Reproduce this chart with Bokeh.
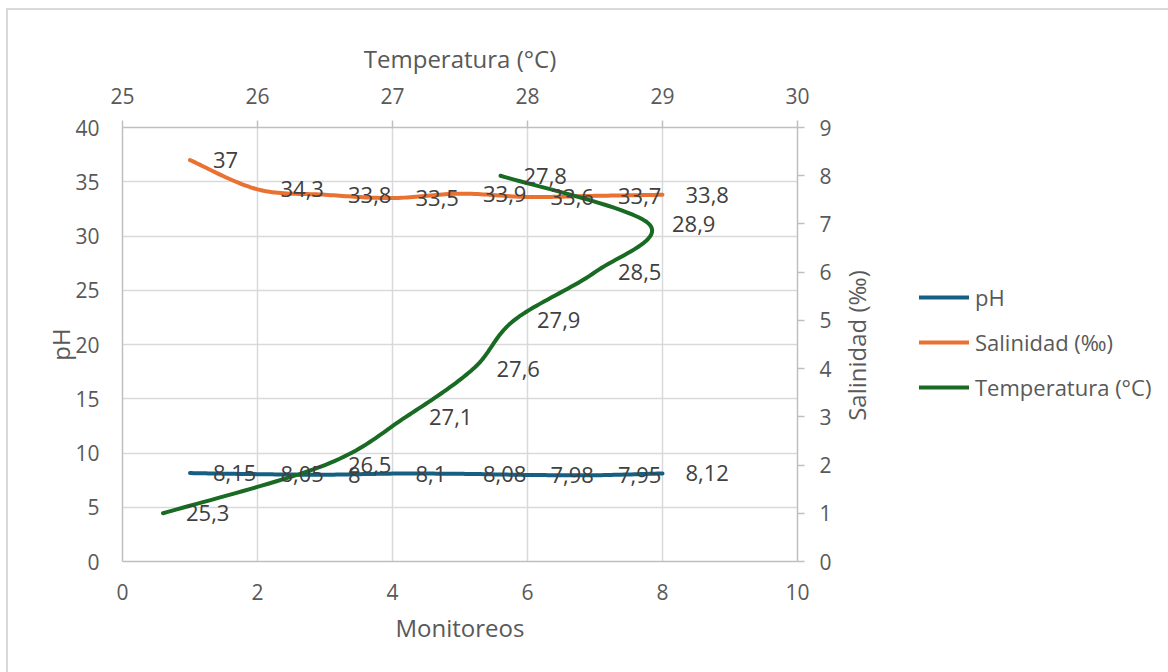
import math
import numpy as np
from bokeh.plotting import figure
from bokeh.layouts import row
from bokeh.core.properties import value
from bokeh.models import (Range1d, LinearAxis, SingleIntervalTicker, ColumnDataSource,
                          LabelSet, Label, Legend, LegendItem)
from bokeh.embed import file_html
from bokeh.resources import INLINE

# ---------------- data ----------------
monitoreos = [1, 2, 3, 4, 5, 6, 7, 8]
ph = [8.15, 8.05, 8, 8.1, 8.08, 7.98, 7.95, 8.12]
salinidad = [37, 34.3, 33.8, 33.5, 33.9, 33.6, 33.7, 33.8]
temperatura = [25.3, 26.5, 27.1, 27.6, 27.9, 28.5, 28.9, 27.8]
series_names = ["pH", "Salinidad (‰)", "Temperatura (°C)"]
right_title = "Salinidad (‰)"

FONT = "Open Sans"
C_PH = "#156082"
C_SAL = "#E97132"
C_TEMP = "#196B24"
AXIS_C = "#BFBFBF"
GRID_C = "#D9D9D9"
TXT_C = "#595959"
LBL_C = "#404040"

W, H = 835, 662
WL = 1160 - W
ML, MR, MT, MB = 114, 46, 117, 111
FW, FH = W - ML - MR, H - MT - MB


def fmt(v):
    return f"{v:g}".replace(".", ",")


def smooth(xs, ys, sx, sy, n=24):
    """Excel-like smoothed line (Catmull-Rom Bezier) computed in screen scale."""
    pts = np.column_stack([np.asarray(xs, float) * sx, np.asarray(ys, float) * sy])
    out = []
    for i in range(len(pts) - 1):
        p0 = pts[i - 1] if i > 0 else pts[i]
        p1, p2 = pts[i], pts[i + 1]
        p3 = pts[i + 2] if i + 2 < len(pts) else pts[i + 1]
        c1 = p1 + (p2 - p0) / 6.0
        c2 = p2 - (p3 - p1) / 6.0
        t = np.linspace(0, 1, n)[:, None]
        seg = (1 - t) ** 3 * p1 + 3 * (1 - t) ** 2 * t * c1 + 3 * (1 - t) * t ** 2 * c2 + t ** 3 * p2
        out.append(seg if i == 0 else seg[1:])
    a = np.vstack(out)
    return list(a[:, 0] / sx), list(a[:, 1] / sy)


p = figure(width=W, height=H, x_range=Range1d(0, 10), y_range=Range1d(0, 40),
           output_backend="svg", toolbar_location=None, min_border_left=ML,
           min_border_right=MR, min_border_top=MT, min_border_bottom=MB)
p.extra_x_ranges = {"temp": Range1d(25, 30)}
p.extra_y_ranges = {"sal": Range1d(0, 9)}
p.outline_line_color = None
p.background_fill_color = "white"
p.border_fill_color = "white"

# ---------------- axes ----------------
def style_axis(ax, ticks_out, label_standoff, title_standoff, tick_color):
    ax.axis_line_color = AXIS_C
    ax.axis_line_width = 1.5
    ax.major_tick_line_color = tick_color
    ax.major_tick_line_width = 1.5
    ax.major_tick_in = 0
    ax.major_tick_out = ticks_out
    ax.minor_tick_line_color = None
    ax.major_label_text_font = FONT
    ax.major_label_text_font_size = "21px"
    ax.major_label_text_color = TXT_C
    ax.major_label_standoff = label_standoff
    ax.axis_label_text_font = FONT
    ax.axis_label_text_font_size = "24px"
    ax.axis_label_text_font_style = "normal"
    ax.axis_label_text_color = TXT_C
    ax.axis_label_standoff = title_standoff

bx = p.xaxis[0]
bx.ticker = SingleIntervalTicker(interval=2, num_minor_ticks=0)
bx.axis_label = "Monitoreos"
style_axis(bx, 0, 22, 8, None)

ly = p.yaxis[0]
ly.ticker = SingleIntervalTicker(interval=5, num_minor_ticks=0)
ly.axis_label = "pH"
style_axis(ly, 0, 23, -5, None)

tx = LinearAxis(x_range_name="temp", axis_label="Temperatura (°C)",
                ticker=SingleIntervalTicker(interval=1, num_minor_ticks=0))
style_axis(tx, 7, 17, 10, AXIS_C)
p.add_layout(tx, "above")

# right axis; its title (reading upwards) is drawn in the side panel below
ry = LinearAxis(y_range_name="sal",
                ticker=SingleIntervalTicker(interval=1, num_minor_ticks=0))
style_axis(ry, 7, 15, 12, AXIS_C)
p.add_layout(ry, "right")

p.xgrid.ticker = bx.ticker
p.ygrid.ticker = ly.ticker
p.xgrid.grid_line_color = GRID_C
p.ygrid.grid_line_color = GRID_C
p.xgrid.grid_line_width = 1.5
p.ygrid.grid_line_width = 1.5

# ---------------- lines ----------------
sx_main, sy_main = FW / 10.0, FH / 40.0
sx_t, sy_t = FW / 5.0, FH / 9.0

phx, phy = smooth(monitoreos, ph, sx_main, sy_main)
salx, saly = smooth(monitoreos, salinidad, sx_main, sy_main)
tpx, tpy = smooth(temperatura, monitoreos, sx_t, sy_t)

line_kw = dict(line_width=4, line_cap="round", line_join="round")
p.line(phx, phy, line_color=C_PH, **line_kw)
p.line(salx, saly, line_color=C_SAL, **line_kw)
p.line(tpx, tpy, line_color=C_TEMP, x_range_name="temp", y_range_name="sal", **line_kw)

# ---------------- data labels ----------------
def labels(xs, ys, vals, **kw):
    src = ColumnDataSource(dict(x=xs, y=ys, t=[fmt(v) for v in vals]))
    ls = LabelSet(x="x", y="y", text="t", source=src, x_offset=23, y_offset=0,
                  text_align="left", text_baseline="middle", text_font=value(FONT),
                  text_font_size="22px", text_color=LBL_C, **kw)
    p.add_layout(ls)

labels(monitoreos, ph, ph)
labels(monitoreos, salinidad, salinidad)
labels(temperatura, monitoreos, temperatura, x_range_name="temp", y_range_name="sal")

# ---------------- side panel: right-axis title + legend ----------------
pl = figure(width=WL, height=H, x_range=Range1d(-2, -1), y_range=Range1d(-2, -1),
            output_backend="svg", toolbar_location=None, min_border=0,
            x_axis_location=None, y_axis_location=None)
pl.outline_line_color = None
pl.grid.visible = False
pl.background_fill_color = "white"
pl.border_fill_color = "white"

pl.add_layout(Label(x=13, y=216, x_units="screen", y_units="screen",
                    text=right_title, angle=math.pi / 2, text_align="center",
                    text_baseline="middle", text_font=FONT, text_font_size="24px",
                    text_color=TXT_C))

# the key shows the same series (outside this panel's visible range)
leg_renderers = [
    pl.line(monitoreos, ph, line_color=C_PH, **line_kw),
    pl.line(monitoreos, salinidad, line_color=C_SAL, **line_kw),
    pl.line(temperatura, monitoreos, line_color=C_TEMP, **line_kw),
]
legend = Legend(items=[LegendItem(label=n, renderers=[r]) for n, r in zip(series_names, leg_renderers)],
                location=(76, 159), padding=0, margin=0, spacing=15,
                glyph_width=50, glyph_height=30, label_height=30, label_standoff=6,
                label_text_font=FONT, label_text_font_size="22px", label_text_color=TXT_C,
                border_line_color=None, background_fill_alpha=0)
pl.add_layout(legend)

layout = row(p, pl, spacing=0)
layout.styles = {"margin-left": "6px", "margin-top": "8px",
                 "border-left": "2px solid #D9D9D9", "border-top": "2px solid #D9D9D9"}

open("out.html", "w").write(file_html(layout, INLINE))
